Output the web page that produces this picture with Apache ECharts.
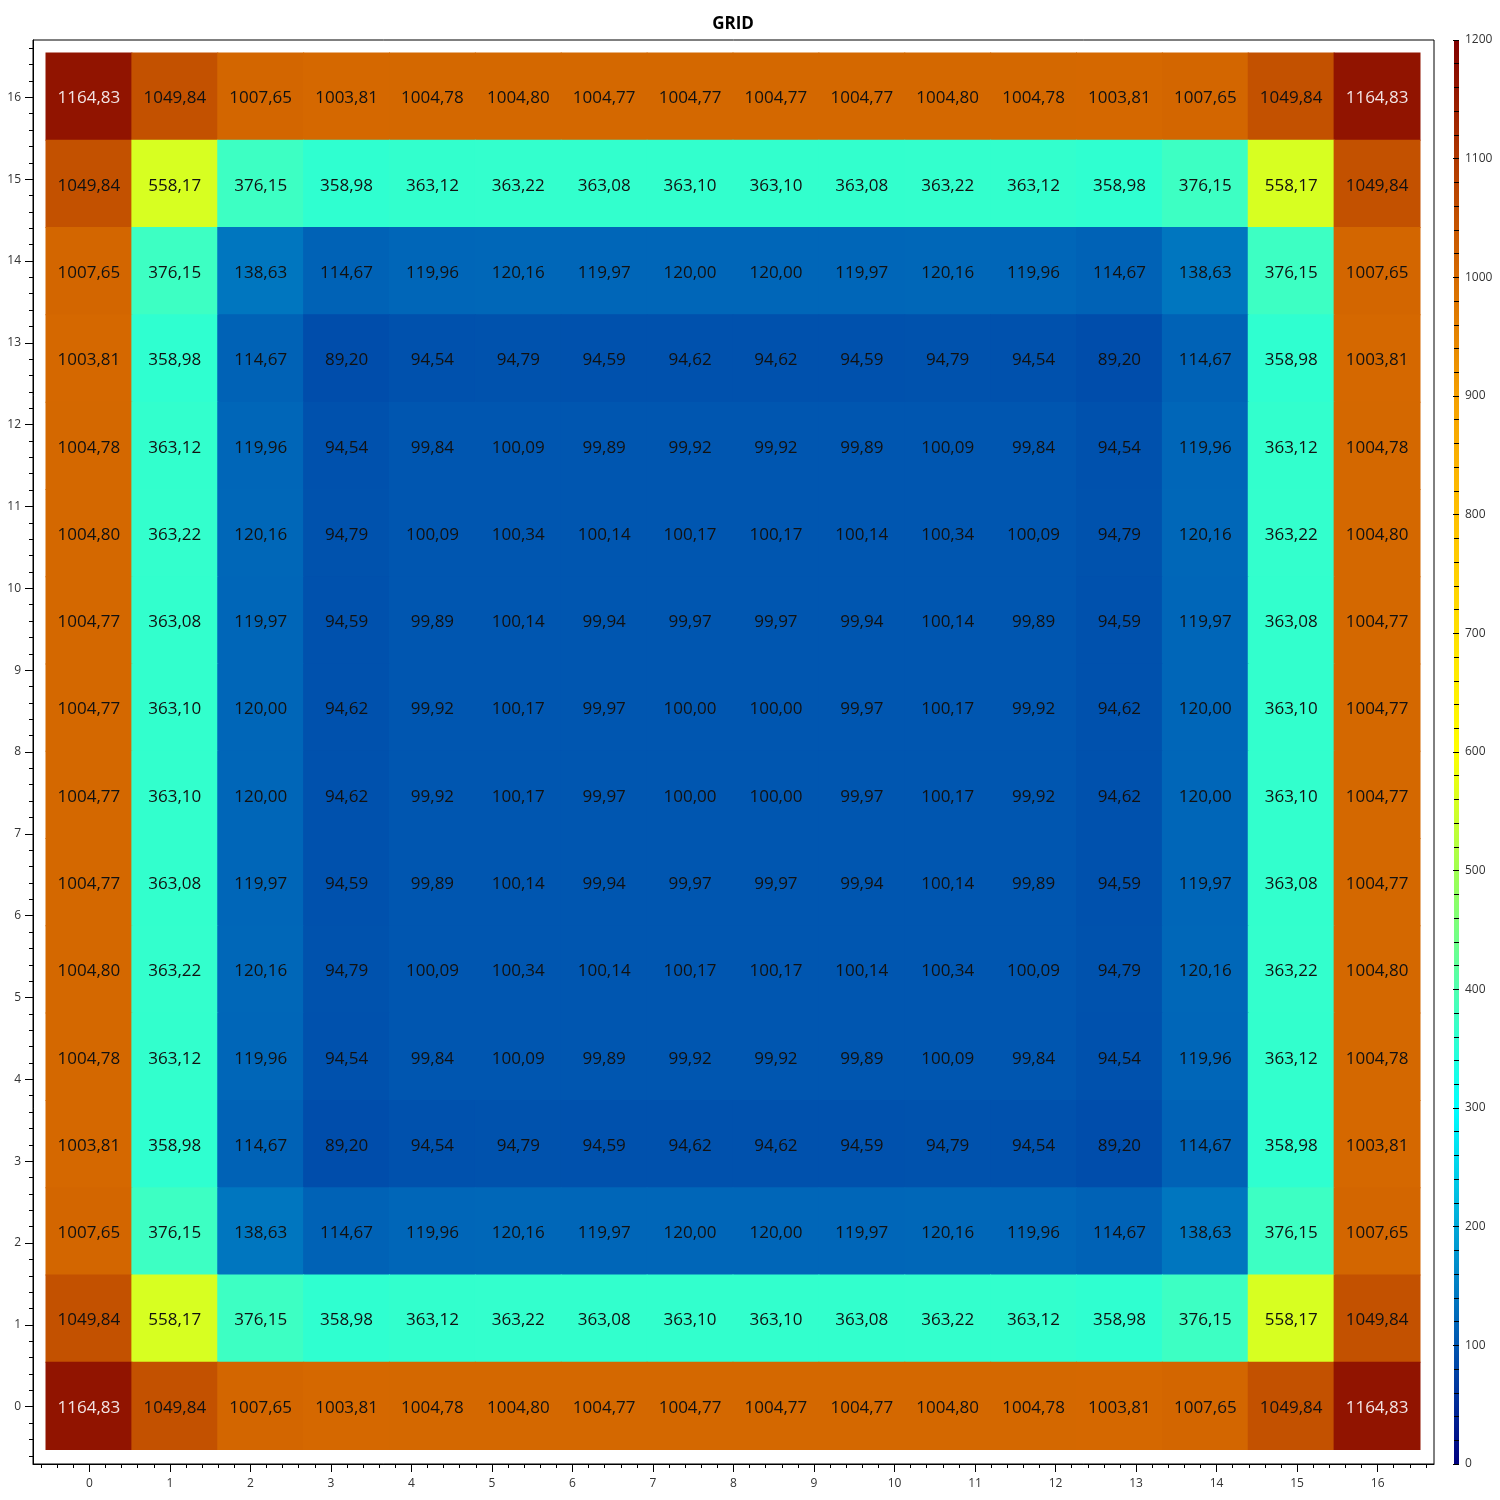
<!DOCTYPE html>
<html>
<head>
<meta charset="utf-8" />
<title>GRID</title>
<script src="https://cdn.jsdelivr.net/npm/echarts@6/dist/echarts.min.js"></script>
<style>
  html, body { margin: 0; padding: 0; background: #fff; }
  #grid-chart { width: 1500px; height: 1500px; }
</style>
</head>
<body>
<div id="grid-chart"></div>
<script>
// values per row, top row of the picture first
const row0 = [1164.83, 1049.84, 1007.65, 1003.81, 1004.78, 1004.80, 1004.77, 1004.77, 1004.77, 1004.77, 1004.80, 1004.78, 1003.81, 1007.65, 1049.84, 1164.83];
const row1 = [1049.84, 558.17, 376.15, 358.98, 363.12, 363.22, 363.08, 363.10, 363.10, 363.08, 363.22, 363.12, 358.98, 376.15, 558.17, 1049.84];
const row2 = [1007.65, 376.15, 138.63, 114.67, 119.96, 120.16, 119.97, 120.00, 120.00, 119.97, 120.16, 119.96, 114.67, 138.63, 376.15, 1007.65];
const row3 = [1003.81, 358.98, 114.67, 89.20, 94.54, 94.79, 94.59, 94.62, 94.62, 94.59, 94.79, 94.54, 89.20, 114.67, 358.98, 1003.81];
const row4 = [1004.78, 363.12, 119.96, 94.54, 99.84, 100.09, 99.89, 99.92, 99.92, 99.89, 100.09, 99.84, 94.54, 119.96, 363.12, 1004.78];
const row5 = [1004.80, 363.22, 120.16, 94.79, 100.09, 100.34, 100.14, 100.17, 100.17, 100.14, 100.34, 100.09, 94.79, 120.16, 363.22, 1004.80];
const row6 = [1004.77, 363.08, 119.97, 94.59, 99.89, 100.14, 99.94, 99.97, 99.97, 99.94, 100.14, 99.89, 94.59, 119.97, 363.08, 1004.77];
const row7 = [1004.77, 363.10, 120.00, 94.62, 99.92, 100.17, 99.97, 100.00, 100.00, 99.97, 100.17, 99.92, 94.62, 120.00, 363.10, 1004.77];
const ROWS = [row0, row1, row2, row3, row4, row5, row6, row7, row7, row6, row5, row4, row3, row2, row1, row0];

// tick labels of the frame axes (both x and y)
const AXIS_TICKS = [0, 1, 2, 3, 4, 5, 6, 7, 8, 9, 10, 11, 12, 13, 14, 15, 16];
const CELL_IDS = ['0', '1', '2', '3', '4', '5', '6', '7', '8', '9', '10', '11', '12', '13', '14', '15'];

// colour bar: one colour every 100, from 0 up to 1200
const COLOR_STOPS = ['#000080', '#0056b0', '#00a8d8', '#00ffff', '#50ffb0', '#a0ff50', '#ffff00',
  '#ffe000', '#ffc000', '#f5a000', '#d66a00', '#b03800', '#800000'];
const COLOR_MIN = 0;
const COLOR_MAX = 1200;

const FONT = 'Open Sans';

// minor ticks every 0.2 between the integer ticks
const minorTicks = [];
for (let k = -3; k <= 83; k++) {
  if (k % 5 !== 0) minorTicks.push(k / 5);
}

const cellData = [];
ROWS.forEach((row, r) => {
  row.forEach((v, c) => {
    cellData.push([c, ROWS.length - 1 - r, v]);
  });
});

const frameAxis = (pos) => ({
  type: 'value',
  gridIndex: 0,
  position: pos,
  min: -0.7,
  max: 16.7,
  axisLine: { show: true, onZero: false, lineStyle: { color: '#000', width: 1 } },
  axisTick: { show: true, customValues: AXIS_TICKS, length: 8, lineStyle: { color: '#000' } },
  axisLabel: { customValues: AXIS_TICKS, color: '#333', fontSize: 12, fontFamily: FONT, margin: pos === 'left' ? 12 : 14 },
  splitLine: { show: false },
});
const minorAxis = (pos) => ({
  type: 'value',
  gridIndex: 0,
  position: pos,
  min: -0.7,
  max: 16.7,
  axisLine: { show: false, onZero: false },
  axisTick: { show: true, customValues: minorTicks, length: 4, lineStyle: { color: '#000' } },
  axisLabel: { show: false },
  splitLine: { show: false },
});
const hiddenCat = (gi, data) => ({
  type: 'category',
  gridIndex: gi,
  data: data,
  show: false,
});

// one cell: filled rect (a hair bigger so no seams show) with its value inside
function renderCell(params, api) {
  const center = api.coord([api.value(0), api.value(1)]);
  const size = api.size([1, 1]);
  const v = api.value(2);
  return {
    type: 'rect',
    shape: {
      x: center[0] - size[0] / 2 - 0.5,
      y: center[1] - size[1] / 2 - 0.5,
      width: size[0] + 1,
      height: size[1] + 1,
    },
    style: { fill: api.visual('color') },
    textContent: {
      style: {
        text: v.toFixed(2).replace('.', ','),
        fill: v > 1100 ? '#f2e4e4' : '#111',
        fontSize: 17,
        fontFamily: FONT,
      },
    },
    textConfig: { position: 'inside', offset: [0, 2] },
  };
}

const chart = echarts.init(document.getElementById('grid-chart'));
chart.setOption({
  animation: false,
  backgroundColor: '#fff',
  title: {
    text: 'GRID',
    left: 728,
    textAlign: 'center',
    top: 11,
    textStyle: { fontSize: 17, fontWeight: 'bold', color: '#000', fontFamily: FONT },
  },
  grid: [
    // frame with the visible axes
    { left: 33, top: 40, right: 66, bottom: 36, show: true, borderColor: '#000', borderWidth: 1, backgroundColor: 'transparent' },
    // cells
    { left: 46, top: 53, right: 80, bottom: 50.5 },
    // colour bar
    { left: 1454, top: 40, width: 5, bottom: 36 },
  ],
  xAxis: [frameAxis('bottom'), minorAxis('bottom'), hiddenCat(1, CELL_IDS), hiddenCat(2, ['c'])],
  yAxis: [
    frameAxis('left'),
    minorAxis('left'),
    hiddenCat(1, CELL_IDS),
    {
      type: 'value',
      gridIndex: 2,
      position: 'right',
      min: COLOR_MIN,
      max: COLOR_MAX,
      interval: 100,
      z: 5,
      axisLine: { show: false },
      axisTick: { show: true, inside: true, length: 6, lineStyle: { color: '#000' } },
      minorTick: { show: true, splitNumber: 5, length: 5, lineStyle: { color: '#000' } },
      axisLabel: { color: '#333', fontSize: 12, fontFamily: FONT, margin: 6, formatter: (v) => String(v) },
      splitLine: { show: false },
    },
  ],
  visualMap: {
    type: 'continuous',
    show: false,
    min: COLOR_MIN,
    max: COLOR_MAX,
    dimension: 2,
    seriesIndex: 0,
    inRange: { color: COLOR_STOPS },
  },
  series: [
    {
      name: 'GRID',
      type: 'custom',
      xAxisIndex: 2,
      yAxisIndex: 2,
      data: cellData,
      encode: { x: 0, y: 1 },
      renderItem: renderCell,
      silent: true,
    },
    {
      type: 'bar',
      xAxisIndex: 3,
      yAxisIndex: 3,
      barWidth: '100%',
      data: [COLOR_MAX],
      silent: true,
      itemStyle: {
        color: new echarts.graphic.LinearGradient(0, 1, 0, 0,
          COLOR_STOPS.map((c, i) => ({ offset: i / (COLOR_STOPS.length - 1), color: c }))),
      },
    },
  ],
});
</script>
</body>
</html>
